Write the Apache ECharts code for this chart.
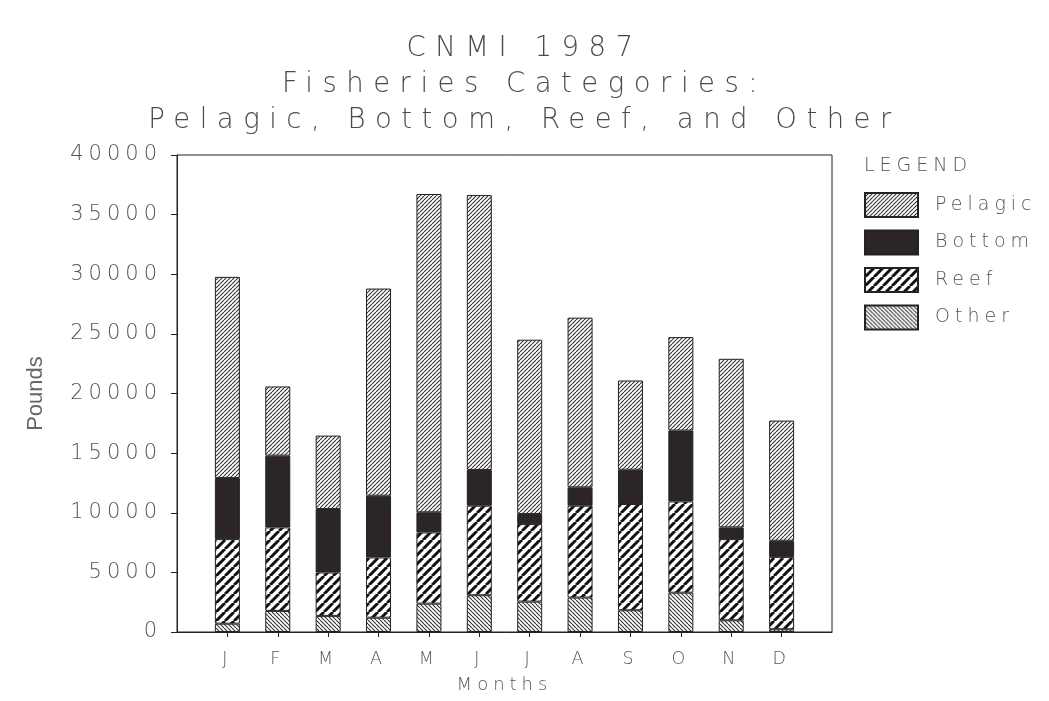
<!DOCTYPE html>
<html>
<head>
<meta charset="utf-8">
<script src="https://cdn.jsdelivr.net/npm/echarts@6/dist/echarts.min.js"></script>
<style>
html,body{margin:0;padding:0;background:#fff;}
#c{width:1049px;height:701px;}
</style>
</head>
<body>
<div id="c"></div>
<script>
// ---- data ----
const months = ['J','F','M','A','M','J','J','A','S','O','N','D'];
const other   = [700, 1770, 1350, 1200, 2380, 3080, 2550, 2890, 1820, 3300, 980, 230];
const reef    = [7090, 7000, 3640, 5050, 5970, 7510, 6500, 7700, 8910, 7650, 6810, 6070];
const bottom  = [5130, 6020, 5320, 5180, 1690, 3000, 840, 1540, 2880, 5940, 980, 1350];
const pelagic = [16860, 5800, 6160, 17370, 26690, 23050, 14620, 14230, 7480, 7840, 14140, 10080];
const yTicks = [0, 5000, 10000, 15000, 20000, 25000, 30000, 35000, 40000];
const titleLines = ['CNMI 1987', 'Fisheries Categories:', 'Pelagic, Bottom, Reef, and Other'];

// padded category axis (one empty slot on each side)
const cats = [''].concat(months, ['']);
const pad = arr => [null].concat(arr, [null]);

function hatch(size, dir, lw, color) {
  const c = document.createElement('canvas');
  c.width = size; c.height = size;
  const g = c.getContext('2d');
  g.fillStyle = '#fff'; g.fillRect(0, 0, size, size);
  g.strokeStyle = color; g.lineWidth = lw;
  g.beginPath();
  for (const o of [-size, 0, size]) {
    if (dir === '/') { g.moveTo(o, size); g.lineTo(o + size, 0); }
    else { g.moveTo(o, 0); g.lineTo(o + size, size); }
  }
  g.stroke();
  return { image: c, repeat: 'repeat' };
}

const pelagicFill = hatch(4, '/', 1.1, '#333');
const otherFill = hatch(4, '\\', 1.1, '#333');
const reefFill = hatch(9, '/', 3, '#111');
const bottomFill = '#2b2428';

const txt = '#555';
const font = 'DejaVu Sans';

function bar(name, data, fill) {
  return {
    name, type: 'bar', stack: 'all', data: pad(data), barWidth: 25, zlevel: 0,
    itemStyle: { color: fill, borderColor: '#222', borderWidth: 1 },
    emphasis: { disabled: true }
  };
}

const option = {
  animation: false,
  backgroundColor: '#fff',
  title: [
    {
      text: titleLines.join('\n'), left: 'center', top: 31, padding: 0, zlevel: 2,
      textStyle: { fontFamily: font, fontSize: 27.5, fontWeight: 200, color: '#4a4a4a', lineHeight: 36 }
    },
    {
      text: 'LEGEND', left: 864, top: 157, padding: 0, zlevel: 1,
      textStyle: { fontFamily: font, fontSize: 19, fontWeight: 200, color: txt }
    }
  ],
  legend: {
    orient: 'vertical', left: 864, top: 192, padding: 0, zlevel: 1,
    itemWidth: 53, itemHeight: 24, itemGap: 11.5,
    data: ['Pelagic', 'Bottom', 'Reef', 'Other'],
    icon: 'rect', selectedMode: false,
    textStyle: { fontFamily: font, fontSize: 19, fontWeight: 200, color: txt, padding: [0, 0, 0, 12] }
  },
  grid: {
    left: 177, top: 155, width: 655, height: 477,
    show: true, borderColor: '#222', borderWidth: 1, backgroundColor: 'transparent', zlevel: 0
  },
  xAxis: {
    type: 'category', data: cats, boundaryGap: false, zlevel: 1,
    name: 'Months', nameLocation: 'middle', nameGap: 44,
    nameTextStyle: { fontFamily: font, fontSize: 18, fontWeight: 200, color: txt },
    axisLine: { lineStyle: { color: '#222', width: 1 } },
    axisTick: { show: true, length: 5, inside: false, interval: (i, v) => v !== '', lineStyle: { color: '#222' } },
    axisLabel: { interval: 0, margin: 18, fontFamily: font, fontSize: 17.5, fontWeight: 200, color: txt },
    splitLine: { show: false }
  },
  yAxis: [
    {
      type: 'value', min: yTicks[0], max: yTicks[yTicks.length - 1], interval: yTicks[1] - yTicks[0], zlevel: 1,
      axisLine: { show: true, lineStyle: { color: '#222', width: 1 } },
      axisTick: { show: true, length: 6, lineStyle: { color: '#222' } },
      axisLabel: { margin: 15, fontFamily: font, fontSize: 21, fontWeight: 200, color: txt, formatter: v => String(v) },
      splitLine: { show: false }
    },
    {
      type: 'value', min: yTicks[0], max: yTicks[yTicks.length - 1], position: 'left', zlevel: 0,
      name: 'Pounds', nameLocation: 'middle', nameGap: 130, nameRotate: 90,
      nameTextStyle: { fontFamily: 'Liberation Sans', fontSize: 22, color: '#666' },
      axisLine: { show: false }, axisTick: { show: false }, axisLabel: { show: false }, splitLine: { show: false }
    }
  ],
  series: [
    bar('Other', other, otherFill),
    bar('Reef', reef, reefFill),
    bar('Bottom', bottom, bottomFill),
    bar('Pelagic', pelagic, pelagicFill)
  ]
};

const chart = echarts.init(document.getElementById('c'), null, { renderer: 'canvas' });
chart.setOption(option);

// widen lettering per layer to mimic the plotter font
try {
  const painter = chart.getZr().painter;
  const spacing = { 0: '0px', 1: '5px', 2: '9.5px' };
  const layers = painter.getLayers();
  for (const z in layers) {
    if (layers[z] && layers[z].ctx) layers[z].ctx.letterSpacing = spacing[z] || '0px';
  }
  painter.refresh(true);
} catch (e) {}
</script>
</body>
</html>
